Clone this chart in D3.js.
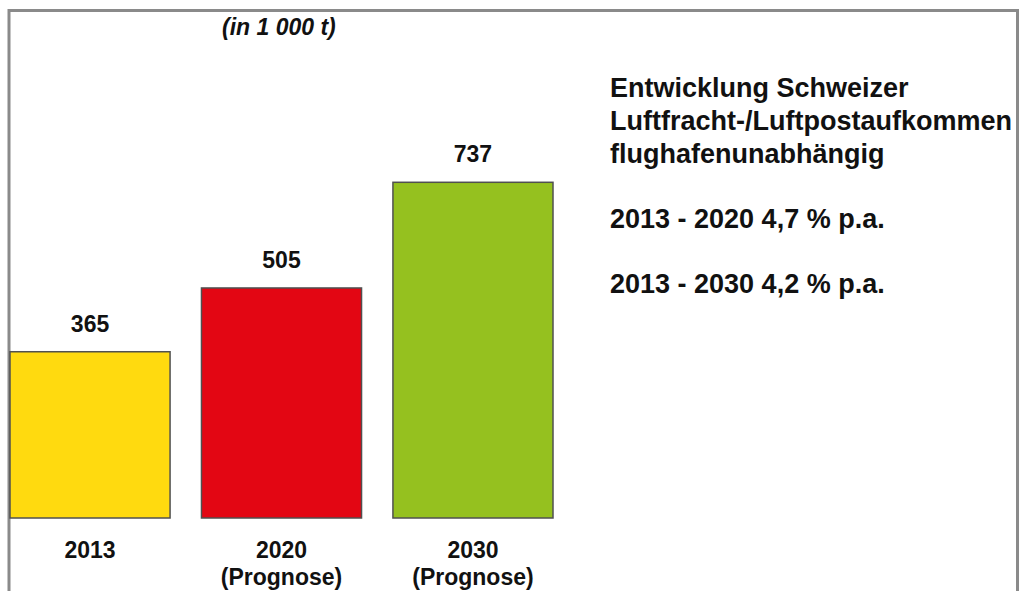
<!DOCTYPE html>
<html><head><meta charset="utf-8">
<script src="https://cdn.jsdelivr.net/npm/d3@7"></script>
<style>
html,body{margin:0;padding:0;background:#fff;}
svg{display:block;font-family:"Liberation Sans",Arial,sans-serif;}
</style></head>
<body><svg id="c" width="1019" height="591"></svg>
<script>
const categories = ["2013", "2020", "2030"];
const subLabels = ["", "(Prognose)", "(Prognose)"];
const values = [365, 505, 737];
const colors = ["#FFDA0F", "#E30613", "#95C11F"];
const unitLabel = "(in 1 000 t)";
const titleLines = ["Entwicklung Schweizer", "Luftfracht-/Luftpostaufkommen", "flughafenunabhängig"];
const growthLines = ["2013 - 2020 4,7 % p.a.", "2013 - 2030 4,2 % p.a."];

const svg = d3.select("#c");
// frame
svg.append("path").attr("d", "M9,591 V10.5 H1017.5 V591")
  .attr("fill", "none").attr("stroke", "#8a8a8a").attr("stroke-width", 3);

const x = d3.scaleBand().domain(categories).range([10, 553]).paddingInner(0.164).paddingOuter(0);
const y = d3.scaleLinear().domain([0, 800]).range([518, 153.6]);

const g = svg.append("g");
g.selectAll("rect").data(values).join("rect")
  .attr("x", (d, i) => x(categories[i]))
  .attr("y", d => y(d))
  .attr("width", x.bandwidth())
  .attr("height", d => y(0) - y(d))
  .attr("fill", (d, i) => colors[i])
  .attr("stroke", "#505050").attr("stroke-width", 1.5);

g.selectAll("text.val").data(values).join("text").attr("class", "val")
  .attr("x", (d, i) => x(categories[i]) + x.bandwidth() / 2)
  .attr("y", d => y(d) - 20)
  .attr("text-anchor", "middle").attr("font-weight", "bold").attr("font-size", 23).attr("fill", "#111")
  .text(d => d);

g.selectAll("text.cat").data(categories).join("text").attr("class", "cat")
  .attr("x", d => x(d) + x.bandwidth() / 2)
  .attr("y", 558)
  .attr("text-anchor", "middle").attr("font-weight", "bold").attr("font-size", 23).attr("fill", "#111")
  .text(d => d);
g.selectAll("text.sub").data(subLabels).join("text").attr("class", "sub")
  .attr("x", (d, i) => x(categories[i]) + x.bandwidth() / 2)
  .attr("y", 585)
  .attr("text-anchor", "middle").attr("font-weight", "bold").attr("font-size", 23).attr("fill", "#111")
  .text(d => d);

svg.append("text").attr("x", 222).attr("y", 35)
  .attr("font-weight", "bold").attr("font-style", "italic").attr("font-size", 23).attr("fill", "#111")
  .text(unitLabel);

svg.selectAll("text.title").data(titleLines).join("text").attr("class", "title")
  .attr("x", 610).attr("y", (d, i) => 97 + i * 33)
  .attr("font-weight", "bold").attr("font-size", 27).attr("fill", "#111")
  .text(d => d);
svg.selectAll("text.growth").data(growthLines).join("text").attr("class", "growth")
  .attr("x", 610).attr("y", (d, i) => 228 + i * 65)
  .attr("font-weight", "bold").attr("font-size", 27).attr("fill", "#111")
  .text(d => d);
</script></body></html>
